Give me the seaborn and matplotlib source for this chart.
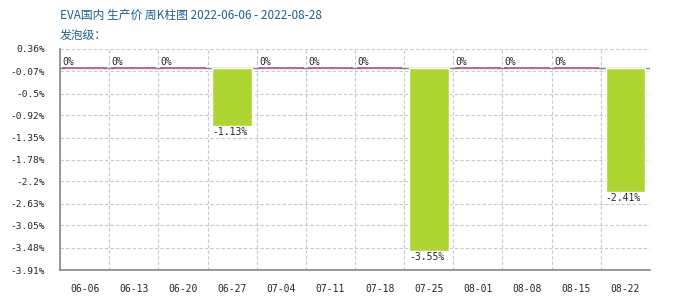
import matplotlib
matplotlib.use("Agg")
import matplotlib.pyplot as plt
import seaborn as sns
import numpy as np
import pandas as pd
from matplotlib.ticker import FixedLocator

dates = ["06-06", "06-13", "06-20", "06-27", "07-04", "07-11", "07-18",
         "07-25", "08-01", "08-08", "08-15", "08-22"]
values = [0, 0, 0, -1.13, 0, 0, 0, -3.55, 0, 0, 0, -2.41]
yticks = [0.36, -0.07, -0.5, -0.92, -1.35, -1.78, -2.2, -2.63, -3.05, -3.48, -3.91]
ytick_labels = ["0.36%", "-0.07%", "-0.5%", "-0.92%", "-1.35%", "-1.78%", "-2.2%",
                "-2.63%", "-3.05%", "-3.48%", "-3.91%"]
title1 = "EVA国内 生产价 周K柱图 2022-06-06 - 2022-08-28"
title2 = "发泡级："

sns.set_theme(style="white")
plt.rcParams['font.family'] = ['DejaVu Sans Mono', 'Noto Sans CJK SC']

df = pd.DataFrame({"date": dates, "value": values})

fig = plt.figure(figsize=(7, 3), dpi=100)
ax = fig.add_axes([60/700, 1-270/300, 590/700, (270-49)/300])

green = "#add632"
sns.barplot(data=df, x="date", y="value", color=green, width=0.81,
            saturation=1, ax=ax, zorder=3)

ax.set_ylim(yticks[-1], yticks[0])
ax.set_xlim(-0.5, len(dates) - 0.5)
ax.set_yticks(yticks)
ax.set_yticklabels(ytick_labels, fontsize=6.8)
ax.tick_params(axis="y", length=0, pad=11)
ax.tick_params(axis="x", length=0, pad=10, labelsize=7)
for lab in ax.get_xticklabels():
    lab.set_fontsize(7)
ax.set_xlabel("")
ax.set_ylabel("")

# grid
ax.xaxis.set_minor_locator(FixedLocator(np.arange(-0.5, len(dates), 1.0)))
ax.grid(True, axis="y", which="major", color="#c8c8c8", linestyle=(0, (3, 2)), linewidth=0.8, zorder=0)
ax.grid(True, axis="x", which="minor", color="#c8c8c8", linestyle=(0, (3, 2)), linewidth=0.8, zorder=0)
ax.grid(False, axis="x", which="major")
ax.tick_params(axis="x", which="minor", length=0)

for s in ["top", "right"]:
    ax.spines[s].set_visible(False)
for s in ["left", "bottom"]:
    ax.spines[s].set_color("#888888")
    ax.spines[s].set_linewidth(1.2)

# zero axis line
ax.axhline(0, color="#888888", linewidth=1, zorder=2)

# zero-value markers and labels
for i, v in enumerate(values):
    left = i - 0.405
    if v == 0:
        ax.hlines(0, i - 0.46, i + 0.46, color="#b0508a", linewidth=1.2, zorder=4)
        ax.text(left - 0.05, 0.02, "0%", fontsize=7, ha="left", va="bottom", zorder=5)
    else:
        ax.text(left, v - 0.02, f"{v:.2f}%", fontsize=7, ha="left", va="top", zorder=5)

fig.text(60/700, 1-15/300, title1, fontsize=8.5, color="#1f5f8f", va="center", ha="left",
         family=['Noto Sans CJK SC', 'DejaVu Sans'])
fig.text(60/700, 1-35/300, title2, fontsize=8.5, color="#1f5f8f", va="center", ha="left",
         family=['Noto Sans CJK SC', 'DejaVu Sans'])

fig.savefig("out.png", dpi=100)
